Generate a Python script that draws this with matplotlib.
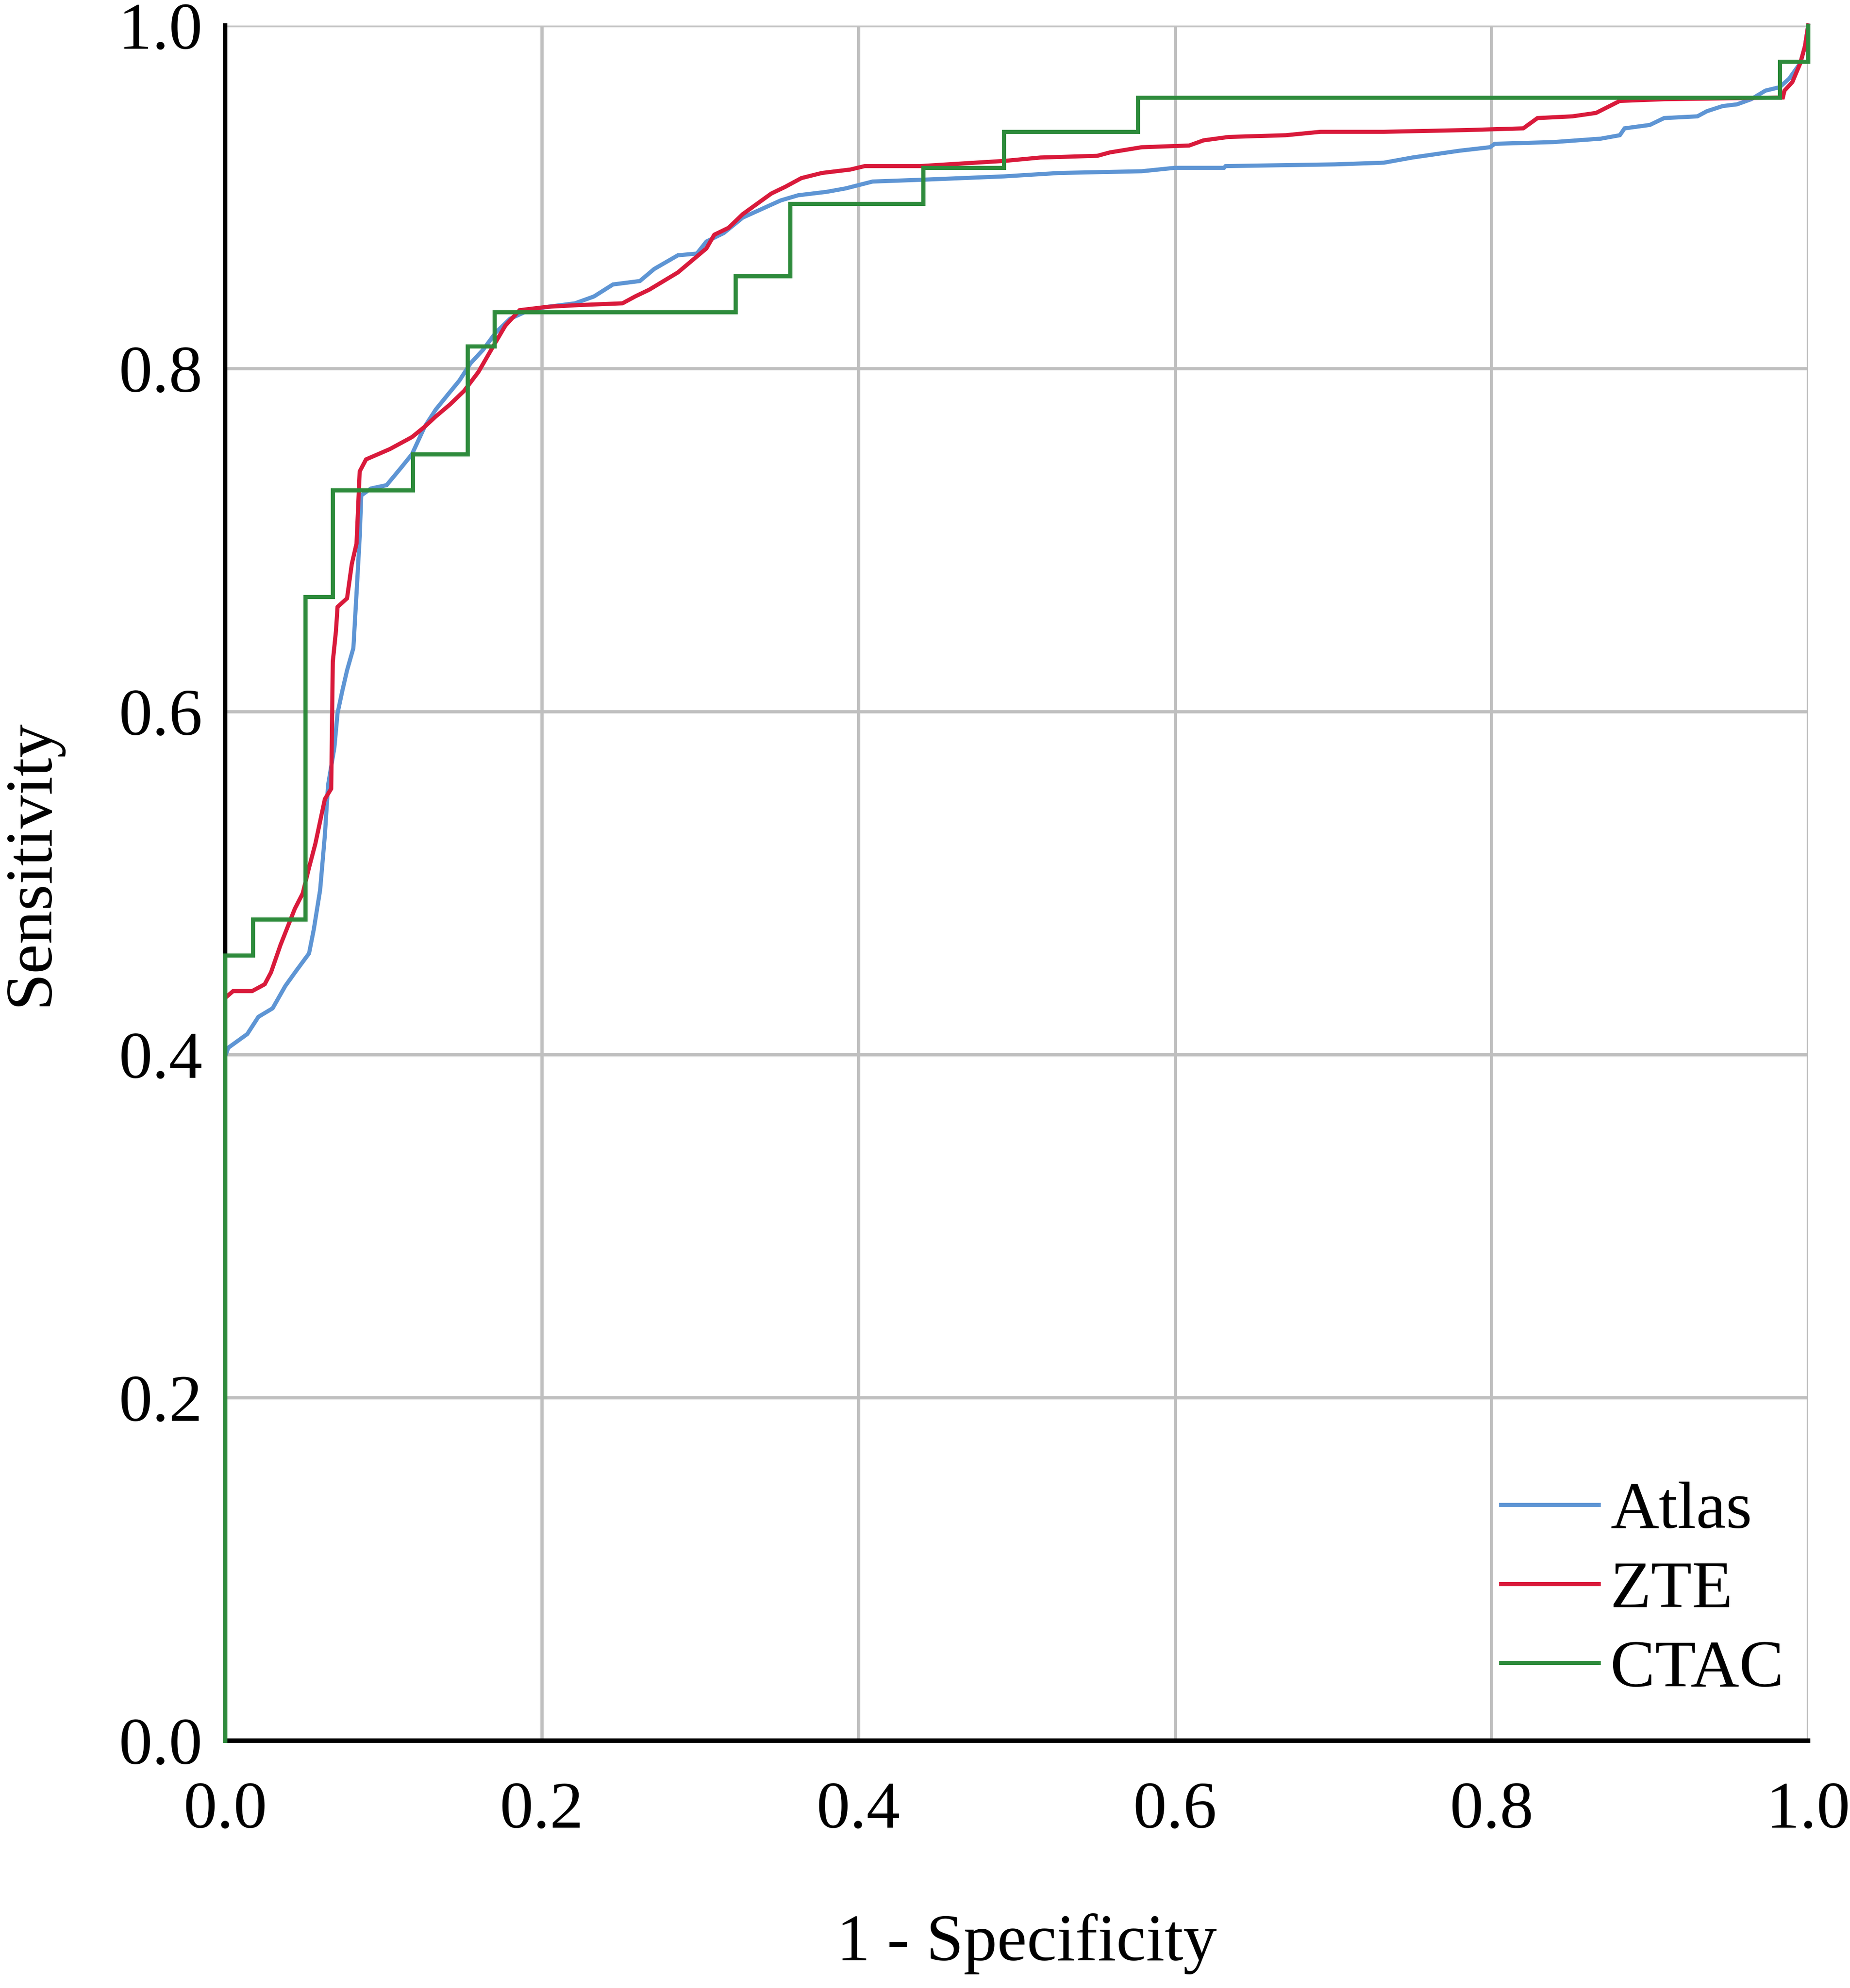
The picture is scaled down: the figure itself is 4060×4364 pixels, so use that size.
import matplotlib
matplotlib.use("Agg")
import matplotlib.pyplot as plt

# ---------------- data ----------------
atlas_fpr = [0, 0, 0.002, 0.005, 0.014, 0.021, 0.030, 0.038, 0.045, 0.053, 0.056, 0.060,
             0.063, 0.065, 0.069, 0.071, 0.074, 0.077, 0.081, 0.083, 0.085, 0.086, 0.092,
             0.102, 0.111, 0.118, 0.126, 0.133, 0.140, 0.148, 0.155, 0.163, 0.171, 0.180,
             0.192, 0.204, 0.221, 0.233, 0.245, 0.262, 0.271, 0.286, 0.298, 0.304, 0.315,
             0.327, 0.339, 0.351, 0.362, 0.380, 0.392, 0.409, 0.439, 0.492, 0.527, 0.579,
             0.600, 0.631, 0.632, 0.701, 0.732, 0.744, 0.750, 0.765, 0.780, 0.799, 0.802,
             0.839, 0.869, 0.881, 0.884, 0.900, 0.909, 0.930, 0.936, 0.946, 0.955, 0.964,
             0.973, 0.982, 0.988, 0.995, 0.998, 1.0]
atlas_tpr = [0, 0.399, 0.404, 0.406, 0.412, 0.422, 0.427, 0.440, 0.449, 0.459, 0.473, 0.496,
             0.528, 0.557, 0.579, 0.599, 0.612, 0.624, 0.637, 0.669, 0.702, 0.726, 0.730,
             0.732, 0.742, 0.750, 0.766, 0.776, 0.784, 0.793, 0.803, 0.811, 0.821, 0.829,
             0.834, 0.836, 0.838, 0.842, 0.849, 0.851, 0.858, 0.866, 0.867, 0.874, 0.879,
             0.888, 0.893, 0.898, 0.901, 0.903, 0.905, 0.909, 0.910, 0.912, 0.914, 0.915,
             0.917, 0.917, 0.918, 0.919, 0.920, 0.922, 0.923, 0.925, 0.927, 0.929, 0.931,
             0.932, 0.934, 0.936, 0.940, 0.942, 0.946, 0.947, 0.950, 0.953, 0.954, 0.957,
             0.962, 0.964, 0.969, 0.978, 0.988, 1.0]

zte_fpr = [0, 0, 0.005, 0.017, 0.025, 0.029, 0.035, 0.044, 0.049, 0.053, 0.057, 0.060, 0.063,
           0.067, 0.068, 0.070, 0.071, 0.077, 0.080, 0.083, 0.085, 0.089, 0.104, 0.118, 0.126,
           0.133, 0.142, 0.151, 0.160, 0.170, 0.177, 0.186, 0.204, 0.224, 0.251, 0.259, 0.268,
           0.277, 0.286, 0.295, 0.304, 0.309, 0.318, 0.327, 0.336, 0.345, 0.354, 0.364, 0.377,
           0.395, 0.404, 0.439, 0.474, 0.492, 0.515, 0.551, 0.559, 0.579, 0.609, 0.618, 0.634,
           0.670, 0.692, 0.732, 0.784, 0.820, 0.829, 0.851, 0.866, 0.881, 0.909, 0.984, 0.985,
           0.990, 0.995, 0.998, 1.0]
zte_tpr = [0, 0.433, 0.437, 0.437, 0.441, 0.448, 0.464, 0.485, 0.494, 0.509, 0.523, 0.536, 0.549,
           0.555, 0.629, 0.647, 0.661, 0.666, 0.686, 0.698, 0.740, 0.747, 0.753, 0.760, 0.766,
           0.772, 0.779, 0.787, 0.798, 0.814, 0.825, 0.834, 0.836, 0.837, 0.838, 0.842, 0.846,
           0.851, 0.856, 0.863, 0.870, 0.878, 0.882, 0.890, 0.896, 0.902, 0.906, 0.911, 0.914,
           0.916, 0.918, 0.918, 0.920, 0.921, 0.923, 0.924, 0.926, 0.929, 0.930, 0.933, 0.935,
           0.936, 0.938, 0.938, 0.939, 0.940, 0.946, 0.947, 0.949, 0.956, 0.957, 0.958, 0.962,
           0.967, 0.978, 0.988, 1.0]

ctac_fpr = [0, 0, 0.0176, 0.0505, 0.068, 0.1187, 0.153, 0.170, 0.3224, 0.357, 0.441, 0.492,
            0.5766, 0.982, 1.0]
ctac_tpr = [0, 0.458, 0.479, 0.667, 0.729, 0.750, 0.813, 0.833, 0.854, 0.896, 0.917, 0.938,
            0.958, 0.979, 1.0]

labels = ["Atlas", "ZTE", "CTAC"]
ticks = [0.0, 0.2, 0.4, 0.6, 0.8, 1.0]
tick_labels = ["0.0", "0.2", "0.4", "0.6", "0.8", "1.0"]

# ---------------- style ----------------
FONT = "Liberation Serif"
FS = 106
C_BLUE = "#5E95D4"
C_RED = "#D91A3B"
C_GREEN = "#2E8B3C"
LW = 6.5

plt.rcParams["font.family"] = [FONT, "DejaVu Serif"]

fig = plt.figure(figsize=(40.6, 43.64), dpi=100)
ax = fig.add_axes([0.1217, 0.1244, 0.9774 - 0.1217, 0.9872 - 0.1244])

ax.plot(atlas_fpr, atlas_tpr, color=C_BLUE, lw=LW, label=labels[0], zorder=3,
        clip_on=False, solid_joinstyle="miter")
ax.plot(zte_fpr, zte_tpr, color=C_RED, lw=LW, label=labels[1], zorder=4,
        clip_on=False, solid_joinstyle="miter")
ax.plot(ctac_fpr, ctac_tpr, color=C_GREEN, lw=LW, label=labels[2], zorder=5,
        clip_on=False, drawstyle="steps-post", solid_joinstyle="miter")

ax.set_xlim(0, 1)
ax.set_ylim(0, 1)
ax.set_xticks(ticks)
ax.set_yticks(ticks)
ax.set_xticklabels(tick_labels, fontsize=FS, family=FONT)
ax.set_yticklabels(tick_labels, fontsize=FS, family=FONT)
ax.tick_params(axis="x", length=0, pad=64)
ax.tick_params(axis="y", length=0, pad=36)

ax.grid(True, color="#BFBFBF", lw=5.0)
ax.set_axisbelow(True)
for s in ["top", "right"]:
    ax.spines[s].set_visible(False)
for s in ["left", "bottom"]:
    ax.spines[s].set_linewidth(7)
    ax.spines[s].set_color("black")
    ax.spines[s].set_zorder(2)

fig.text(0.555, 0.0223, "1 - Specificity", fontsize=FS, family=FONT,
         ha="center", va="center")
fig.text(0.017, 0.566, "Sensitivity", fontsize=FS, family=FONT,
         ha="center", va="center", rotation=90)

ax.legend(loc="center left", bbox_to_anchor=(0.806, 0.0874), frameon=False,
          prop={"family": FONT, "size": FS}, handlelength=1.45,
          handletextpad=0.18, labelspacing=0.27, borderpad=0, borderaxespad=0)

fig.savefig("out.png", dpi=100, facecolor="white")
